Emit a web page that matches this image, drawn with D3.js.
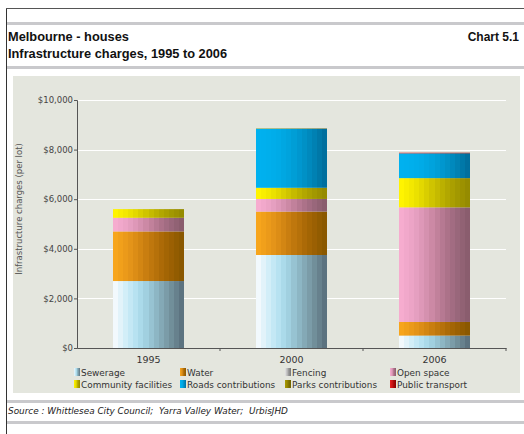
<!DOCTYPE html>
<html>
<head>
<meta charset="utf-8">
<script src="https://cdn.jsdelivr.net/npm/d3@7"></script>
<style>
  html, body { margin: 0; padding: 0; background: #ffffff; }
  svg { display: block; }
</style>
</head>
<body>
<svg id="chart" width="524" height="434"></svg>
<script>
// Infrastructure charges per lot, Melbourne houses
const years = ["1995", "2000", "2006"];
const sewerage = [2700, 3750, 500];
const water = [2000, 1750, 550];
const fencing = [0, 0, 0];
const openSpace = [550, 510, 4620];
const communityFacilities = [350, 450, 1180];
const roadsContributions = [0, 2380, 1000];
const parksContributions = [0, 15, 0];
const publicTransport = [0, 0, 25];
const yTicks = [0, 2000, 4000, 6000, 8000, 10000];

const seriesNames = ["Sewerage", "Water", "Fencing", "Open space",
  "Community facilities", "Roads contributions", "Parks contributions", "Public transport"];
const seriesValues = [sewerage, water, fencing, openSpace,
  communityFacilities, roadsContributions, parksContributions, publicTransport];

// left-to-right shading for each series
const shades = [
  ["#f2f9fd", "#c8eaf6", "#a8dcee", "#8fb8c6", "#7898a2", "#5c7380"],
  ["#f7a51c", "#e4941a", "#c47a0e", "#a56504", "#8a5800"],
  ["#e6e6e6", "#c4c4c4", "#a8a8a8", "#8c8c8c", "#747474"],
  ["#f6accf", "#e6a0c2", "#c8849f", "#a26c82", "#8a5d6e"],
  ["#fff400", "#ece200", "#c9be00", "#aa9f00", "#958b00"],
  ["#00b1ef", "#00aeeb", "#00a2dc", "#008cc0", "#006f9e"],
  ["#aa9a00", "#9a8c00", "#8a7c00", "#7a6e00", "#6a6000"],
  ["#e82020", "#d21818", "#b81010", "#a00808", "#880000"]
];

const rows = years.map((y, i) => {
  const r = { year: y };
  seriesNames.forEach((n, k) => { r[n] = seriesValues[k][i]; });
  return r;
});

const svg = d3.select("#chart");
const defs = svg.append("defs");

// banded horizontal gradients
shades.forEach((cols, k) => {
  const interp = d3.interpolateRgbBasis(cols);
  const g = defs.append("linearGradient").attr("id", "grad" + k)
    .attr("x1", "0%").attr("x2", "100%").attr("y1", "0%").attr("y2", "0%");
  const steps = 14;
  for (let s = 0; s < steps; s++) {
    const c = interp(s / (steps - 1));
    g.append("stop").attr("offset", (s / steps * 100) + "%").attr("stop-color", c);
    g.append("stop").attr("offset", ((s + 1) / steps * 100) + "%").attr("stop-color", c);
  }
});

// page frame
svg.append("line").attr("x1", 6.5).attr("x2", 6.5).attr("y1", 8).attr("y2", 434)
  .attr("stroke", "#333").attr("stroke-width", 1);
svg.append("line").attr("x1", 6).attr("x2", 524).attr("y1", 8.5).attr("y2", 8.5)
  .attr("stroke", "#555").attr("stroke-width", 1);
[22, 66, 400, 421].forEach(y => {
  svg.append("rect").attr("x", 7).attr("y", y).attr("width", 517).attr("height", 3)
    .attr("fill", "#c9c9cc");
});

// headings
const head = svg.append("g").attr("font-family", "Liberation Sans, Arial, sans-serif")
  .attr("font-weight", "bold").attr("fill", "#111");
head.append("text").attr("x", 8).attr("y", 41).attr("font-size", "12.8px").text("Melbourne - houses");
head.append("text").attr("x", 8).attr("y", 58).attr("font-size", "12.8px").text("Infrastructure charges, 1995 to 2006");
head.append("text").attr("x", 519).attr("y", 41).attr("text-anchor", "end")
  .attr("font-size", "12px").text("Chart 5.1");

svg.append("text").attr("x", 8).attr("y", 414)
  .attr("font-family", "DejaVu Sans, Verdana, sans-serif").attr("font-style", "italic")
  .attr("font-size", "8.9px").attr("fill", "#222").style("white-space", "pre")
  .text("Source : Whittlesea City Council;  Yarra Valley Water;  UrbisJHD");

// plot panel
svg.append("rect").attr("x", 13).attr("y", 76).attr("width", 507).attr("height", 317)
  .attr("fill", "#e4e6de");

const x0 = 77, x1 = 506, yTop = 100, yBot = 348;
const x = d3.scaleBand().domain(years).range([x0, x1]).paddingInner(0).paddingOuter(0);
const y = d3.scaleLinear().domain([0, 10000]).range([yBot, yTop]);
const barW = 71;

// gridlines
svg.append("g").selectAll("line").data(yTicks.filter(d => d > 0)).join("line")
  .attr("x1", x0).attr("x2", x1)
  .attr("y1", d => Math.round(y(d)) + 0.5).attr("y2", d => Math.round(y(d)) + 0.5)
  .attr("stroke", "#ffffff").attr("stroke-width", 1.2);

// stacked bars
const stack = d3.stack().keys(seriesNames);
const layers = stack(rows);
svg.append("g").selectAll("g").data(layers).join("g")
  .attr("fill", (d, k) => "url(#grad" + k + ")")
  .selectAll("rect").data(d => d).join("rect")
  .attr("x", d => x(d.data.year) + (x.bandwidth() - barW) / 2)
  .attr("width", barW)
  .attr("y", d => y(d[1]))
  .attr("height", d => Math.max(0, y(d[0]) - y(d[1])));

// axes
const axisFont = "DejaVu Sans, Verdana, sans-serif";
const yAxis = svg.append("g").attr("transform", `translate(${x0},0)`)
  .call(d3.axisLeft(y).tickValues(yTicks).tickSize(3).tickPadding(1)
    .tickFormat(d => "$" + d3.format(",")(d)));
yAxis.select(".domain").attr("stroke", "#555");
yAxis.selectAll(".tick line").attr("stroke", "#555");
yAxis.selectAll("text").attr("font-family", axisFont).attr("font-size", "8.5px").attr("fill", "#444");

const xAxis = svg.append("g").attr("transform", `translate(0,${yBot})`)
  .call(d3.axisBottom(x).tickSize(0).tickPadding(8));
xAxis.select(".domain").attr("stroke", "#555");
xAxis.selectAll("text").attr("font-family", axisFont).attr("font-size", "9.5px").attr("fill", "#333");
// category separators
xAxis.append("g").selectAll("line").data(years).join("line")
  .attr("x1", d => x(d) + x.bandwidth()).attr("x2", d => x(d) + x.bandwidth())
  .attr("y1", 0).attr("y2", 3).attr("stroke", "#555");

svg.append("text").attr("transform", "translate(22,209) rotate(-90)")
  .attr("text-anchor", "middle").attr("font-family", axisFont).attr("font-size", "8.5px")
  .attr("fill", "#555").text("Infrastructure charges (per lot)");

// legend
const legCols = [74, 180, 285, 390];
const legRows = [372, 384];
const leg = svg.append("g").selectAll("g").data(seriesNames).join("g")
  .attr("transform", (d, i) => `translate(${legCols[i % 4]},${legRows[Math.floor(i / 4)]})`);
leg.append("rect").attr("x", 0).attr("y", -4).attr("width", 6).attr("height", 8)
  .attr("fill", (d, i) => "url(#grad" + i + ")");
leg.append("text").attr("x", 7).attr("y", 3.5)
  .attr("font-family", axisFont).attr("font-size", "8.9px").attr("fill", "#333")
  .text(d => d);
</script>
</body>
</html>
